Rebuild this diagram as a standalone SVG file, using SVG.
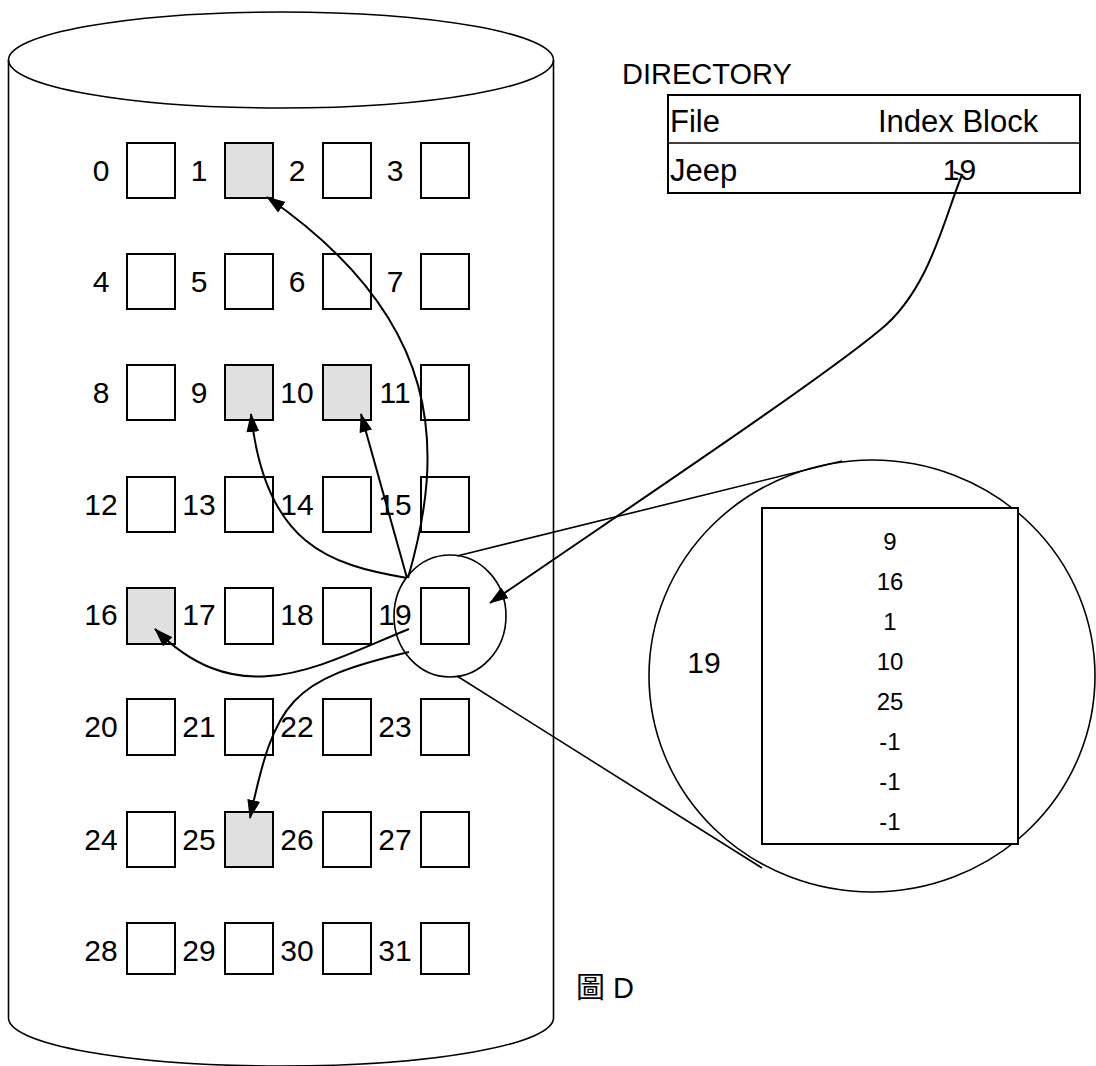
<svg xmlns="http://www.w3.org/2000/svg" width="1096" height="1066" viewBox="0 0 1096 1066">
<style>
.ln{fill:none;stroke:#000;stroke-width:1.6}
.bx{fill:#fff;stroke:#000;stroke-width:2}
.sh{fill:#e0e0e0;stroke:#000;stroke-width:2}
.lb{font-family:"Liberation Sans",Arial,sans-serif;font-size:30px;fill:#000;text-anchor:middle}
.tx{font-family:"Liberation Sans",Arial,sans-serif;font-size:31px;fill:#000}
.ix{font-family:"Liberation Sans",Arial,sans-serif;font-size:24px;fill:#000;text-anchor:middle}
.ar{fill:none;stroke:#000;stroke-width:2;marker-end:url(#ah)}
</style>
<defs>
<marker id="ah" markerUnits="userSpaceOnUse" markerWidth="19" markerHeight="13" refX="18" refY="6.5" orient="auto">
<path d="M0,0 L19,6.5 L0,13 z" fill="#000"/>
</marker>
</defs>
<rect width="1096" height="1066" fill="#fff"/>
<g id="disk">
<ellipse class="ln" cx="281" cy="60" rx="272.5" ry="48"/>
<path class="ln" d="M8.5,60 L8.5,1018 A272.5,48 0 0 0 553.5,1018 L553.5,60"/>
</g>
<g id="b0"><rect class="bx" x="127" y="143" width="48" height="55"/><text class="lb" x="101" y="181">0</text></g>
<g id="b1"><rect class="sh" x="225" y="143" width="48" height="55"/><text class="lb" x="199" y="181">1</text></g>
<g id="b2"><rect class="bx" x="323" y="143" width="48" height="55"/><text class="lb" x="297" y="181">2</text></g>
<g id="b3"><rect class="bx" x="421" y="143" width="48" height="55"/><text class="lb" x="395" y="181">3</text></g>
<g id="b4"><rect class="bx" x="127" y="254" width="48" height="55"/><text class="lb" x="101" y="292">4</text></g>
<g id="b5"><rect class="bx" x="225" y="254" width="48" height="55"/><text class="lb" x="199" y="292">5</text></g>
<g id="b6"><rect class="bx" x="323" y="254" width="48" height="55"/><text class="lb" x="297" y="292">6</text></g>
<g id="b7"><rect class="bx" x="421" y="254" width="48" height="55"/><text class="lb" x="395" y="292">7</text></g>
<g id="b8"><rect class="bx" x="127" y="365" width="48" height="55"/><text class="lb" x="101" y="403">8</text></g>
<g id="b9"><rect class="sh" x="225" y="365" width="48" height="55"/><text class="lb" x="199" y="403">9</text></g>
<g id="b10"><rect class="sh" x="323" y="365" width="48" height="55"/><text class="lb" x="297" y="403">10</text></g>
<g id="b11"><rect class="bx" x="421" y="365" width="48" height="55"/><text class="lb" x="395" y="403">11</text></g>
<g id="b12"><rect class="bx" x="127" y="477" width="48" height="55"/><text class="lb" x="101" y="515">12</text></g>
<g id="b13"><rect class="bx" x="225" y="477" width="48" height="55"/><text class="lb" x="199" y="515">13</text></g>
<g id="b14"><rect class="bx" x="323" y="477" width="48" height="55"/><text class="lb" x="297" y="515">14</text></g>
<g id="b15"><rect class="bx" x="421" y="477" width="48" height="55"/><text class="lb" x="395" y="515">15</text></g>
<g id="b16"><rect class="sh" x="127" y="588" width="48" height="56"/><text class="lb" x="101" y="625">16</text></g>
<g id="b17"><rect class="bx" x="225" y="588" width="48" height="56"/><text class="lb" x="199" y="625">17</text></g>
<g id="b18"><rect class="bx" x="323" y="588" width="48" height="56"/><text class="lb" x="297" y="625">18</text></g>
<g id="b19"><rect class="bx" x="421" y="588" width="48" height="56"/><text class="lb" x="395" y="625">19</text></g>
<g id="b20"><rect class="bx" x="127" y="699" width="48" height="56"/><text class="lb" x="101" y="737">20</text></g>
<g id="b21"><rect class="bx" x="225" y="699" width="48" height="56"/><text class="lb" x="199" y="737">21</text></g>
<g id="b22"><rect class="bx" x="323" y="699" width="48" height="56"/><text class="lb" x="297" y="737">22</text></g>
<g id="b23"><rect class="bx" x="421" y="699" width="48" height="56"/><text class="lb" x="395" y="737">23</text></g>
<g id="b24"><rect class="bx" x="127" y="812" width="48" height="55"/><text class="lb" x="101" y="850">24</text></g>
<g id="b25"><rect class="sh" x="225" y="812" width="48" height="55"/><text class="lb" x="199" y="850">25</text></g>
<g id="b26"><rect class="bx" x="323" y="812" width="48" height="55"/><text class="lb" x="297" y="850">26</text></g>
<g id="b27"><rect class="bx" x="421" y="812" width="48" height="55"/><text class="lb" x="395" y="850">27</text></g>
<g id="b28"><rect class="bx" x="127" y="923" width="48" height="51"/><text class="lb" x="101" y="961">28</text></g>
<g id="b29"><rect class="bx" x="225" y="923" width="48" height="51"/><text class="lb" x="199" y="961">29</text></g>
<g id="b30"><rect class="bx" x="323" y="923" width="48" height="51"/><text class="lb" x="297" y="961">30</text></g>
<g id="b31"><rect class="bx" x="421" y="923" width="48" height="51"/><text class="lb" x="395" y="961">31</text></g>
<g id="directory">
<text class="tx" x="622" y="84" style="font-size:29px">DIRECTORY</text>
<rect class="bx" x="668" y="95" width="412" height="98"/>
<line class="ln" x1="668" y1="143" x2="1080" y2="143" stroke-width="2"/>
<text class="tx" x="670" y="132">File</text>
<text class="tx" x="878" y="132">Index Block</text>
<text class="tx" x="670" y="181">Jeep</text>
<text class="tx" x="959.5" y="180" text-anchor="middle" style="font-size:30px">19</text>
</g>
<g id="zoom">
<ellipse class="ln" cx="450" cy="616" rx="56" ry="61"/>
<ellipse class="ln" cx="872" cy="676" rx="223" ry="216"/>
<line class="ln" x1="457" y1="556" x2="842" y2="461"/>
<line class="ln" x1="457" y1="676" x2="762" y2="868"/>
<rect class="bx" x="762" y="508" width="256" height="336"/>
<text class="lb" x="704" y="673">19</text>
<text class="ix" x="890" y="550">9</text>
<text class="ix" x="890" y="590">16</text>
<text class="ix" x="890" y="630">1</text>
<text class="ix" x="890" y="670">10</text>
<text class="ix" x="890" y="710">25</text>
<text class="ix" x="890" y="750">-1</text>
<text class="ix" x="890" y="790">-1</text>
<text class="ix" x="890" y="830">-1</text>
</g>
<g id="caption">
<text class="tx" x="576" y="998" style="font-family:'Liberation Sans','Noto Sans CJK TC',sans-serif;font-size:29px">圖 D</text>
</g>
<g id="connectors">
<path class="ar" d="M954,172 L962,175 C945,215 930,290 880,330 C820,380 640,500 490,603"/>
<path class="ar" d="M408,578 C445,450 445,320 267,197"/>
<path class="ar" d="M407,578 L361,414"/>
<path class="ar" d="M407,578 C330,565 265,545 251,414"/>
<path class="ar" d="M409,629 C320,665 240,715 155,629"/>
<path class="ar" d="M409,652 C290,680 275,700 250,818"/>
</g>
</svg>
